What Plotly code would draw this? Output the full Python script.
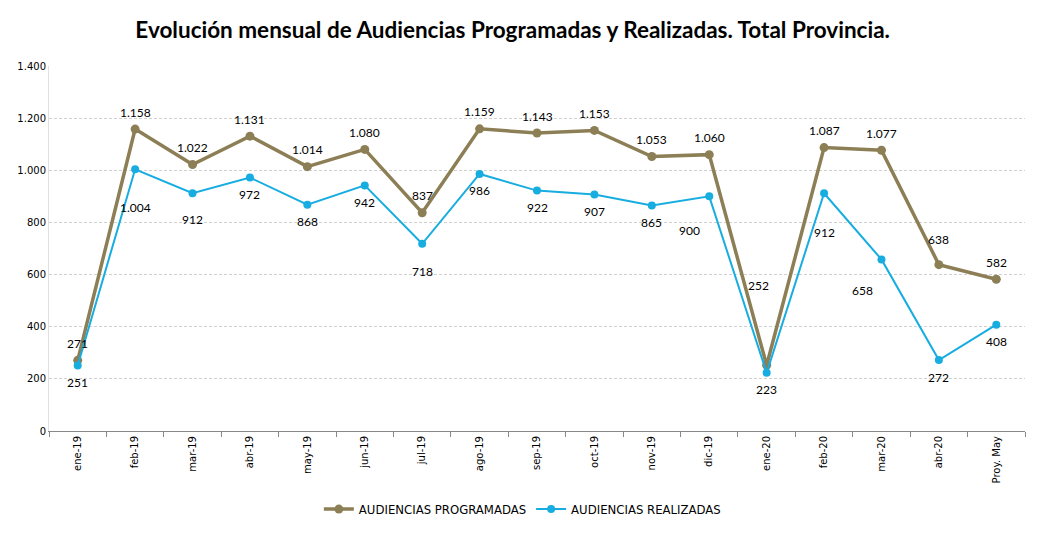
import plotly.graph_objects as go

# monthly data
months = ["ene-19", "feb-19", "mar-19", "abr-19", "may-19", "jun-19", "jul-19", "ago-19",
          "sep-19", "oct-19", "nov-19", "dic-19", "ene-20", "feb-20", "mar-20", "abr-20", "Proy. May"]
programadas = [271, 1158, 1022, 1131, 1014, 1080, 837, 1159, 1143, 1153, 1053, 1060, 252, 1087, 1077, 638, 582]
realizadas = [251, 1004, 912, 972, 868, 942, 718, 986, 922, 907, 865, 900, 223, 912, 658, 272, 408]

OLIVE = "#8C7E55"
BLUE = "#17ADE0"
LABEL_FONT = dict(family="Lato", size=12, color="black")

# label offsets (xshift, yshift) in px where the chart moved a label by hand
prog_offsets = {"ene-20": (-8, 80), "abr-20": (0, 25)}
real_offsets = {"feb-19": (0, -38), "mar-19": (0, -26), "jul-19": (0, -28),
                "dic-19": (-20, -34), "feb-20": (0, -39), "mar-20": (-19, -31)}


def fmt(v):
    return f"{v:,}".replace(",", ".")


fig = go.Figure()
fig.add_trace(go.Scatter(
    x=months, y=programadas, name="AUDIENCIAS PROGRAMADAS", mode="lines+markers",
    line=dict(color=OLIVE, width=3.5), marker=dict(color=OLIVE, size=9),
))
fig.add_trace(go.Scatter(
    x=months, y=realizadas, name="AUDIENCIAS REALIZADAS", mode="lines+markers",
    line=dict(color=BLUE, width=2), marker=dict(color=BLUE, size=8),
))

annotations = []
for values, offsets, default in ((programadas, prog_offsets, 17), (realizadas, real_offsets, -17)):
    for m, v in zip(months, values):
        dx, dy = offsets.get(m, (0, default))
        annotations.append(dict(x=m, y=v, xref="x", yref="y", text=fmt(v), showarrow=False,
                                font=LABEL_FONT, xshift=dx, yshift=dy))

# the page body adds an 8px margin, so the figure is 8px smaller than the window
fig.update_layout(
    width=1032,
    height=534,
    template="none",
    paper_bgcolor="white",
    plot_bgcolor="white",
    separators=",.",
    margin=dict(l=41, r=15, t=58, b=111),
    title=dict(
        text="<b>Evolución mensual de Audiencias Programadas y Realizadas. Total Provincia.</b>",
        x=0.489, xanchor="center", y=0.959, yanchor="middle",
        font=dict(family="Lato", size=22.5, color="black"),
    ),
    showlegend=True,
    legend=dict(
        orientation="h", x=0.485, xanchor="center", y=-0.214, yanchor="middle",
        font=dict(family="DejaVu Sans Condensed", size=13, color="black"),
        itemwidth=30,
    ),
    annotations=annotations,
)
fig.update_xaxes(
    type="category",
    range=[-0.5, len(months) - 0.5],
    automargin=False,
    tickangle=-90,
    tickfont=dict(family="DejaVu Sans", size=10, color="black"),
    showgrid=False,
    showline=True,
    linecolor="#888888",
    linewidth=1,
    ticks="outside",
    tickson="boundaries",
    ticklen=5,
    tickcolor="#888888",
    zeroline=False,
)
fig.update_yaxes(
    range=[0, 1400],
    dtick=200,
    tickformat=",d",
    automargin=False,
    tickfont=dict(family="DejaVu Sans", size=10, color="black"),
    showgrid=True,
    gridcolor="#d0d0d0",
    griddash="3px,2px",
    gridwidth=1,
    showline=True,
    linecolor="#e0e0e0",
    zeroline=False,
    ticks="",
)

fig.write_html("out.html")
